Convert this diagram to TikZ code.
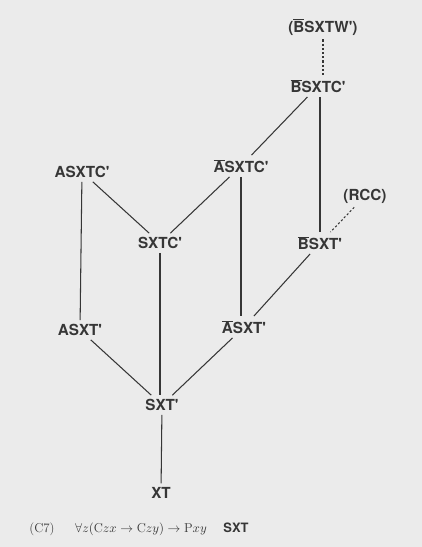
\documentclass[tikz,border=0pt]{standalone}
\usepackage{fontspec}
\setsansfont{TeX Gyre Heros}
\definecolor{ink}{HTML}{363636}
\definecolor{paper}{HTML}{EBEBEB}
\newcommand{\nbar}[1]{$\overline{\mbox{#1}}$}
\newcommand{\pq}{\textquotesingle}

\begin{document}
\begin{tikzpicture}[x=0.03cm, y=-0.03cm, auto,
    lbl/.style={font=\sffamily\bfseries\fontsize{13}{15}\selectfont, text=ink},
    captext/.style={font=\fontsize{11}{13}\selectfont, text=ink},
    edge/.style={draw=ink, line width=0.9pt},
    dots/.style={edge, dash pattern=on 1.8pt off 1.8pt}]
    \fill[paper] (0,0) rectangle (422,547);

    \node[lbl] (bsxtw) at (323,27) {(\nbar{B}SXTW\pq)};
    \node[lbl] (bsxtc) at (318,86) {\nbar{B}SXTC\pq};
    \node[lbl] (asxtc) at (82,172) {ASXTC\pq};
    \node[lbl] (nasxtc) at (241,166) {\nbar{A}SXTC\pq};
    \node[lbl] (rcc) at (365,196) {(RCC)};
    \node[lbl] (sxtc) at (160,243) {SXTC\pq};
    \node[lbl] (bsxt) at (320,243) {\nbar{B}SXT\pq};
    \node[lbl] (asxt) at (80,330) {ASXT\pq};
    \node[lbl] (nasxt) at (244,327) {\nbar{A}SXT\pq};
    \node[lbl] (sxt) at (162,405) {SXT\pq};
    \node[lbl] (xt) at (161,493) {XT};

    \node[captext] (c7) at (42,529) {(C7)};
    \node[captext] (law) at (141,529) {$\forall z(\mathrm{C}zx \rightarrow \mathrm{C}zy) \rightarrow \mathrm{P}xy$};
    \node[lbl, font=\sffamily\bfseries\fontsize{11}{13}\selectfont] (name) at (236,528) {SXT};

    \draw[dots] (bsxtw) -- (bsxtc.north -| bsxtw);
    \draw[edge] (bsxtc) -- (nasxtc);
    \draw[edge] (bsxtc.south -| bsxt) -- (bsxt);
    \draw[edge] (asxtc) -- (asxt);
    \draw[edge] (asxtc) -- (sxtc);
    \draw[edge] (nasxtc) -- (sxtc);
    \draw[edge] (nasxtc) -- (nasxtc |- nasxt.north);
    \draw[dots] (rcc) -- (bsxt);
    \draw[edge] (sxtc) -- (sxtc |- sxt.north);
    \draw[edge] (bsxt) -- (nasxt);
    \draw[edge] (asxt) -- (sxt);
    \draw[edge] (nasxt) -- (sxt);
    \draw[edge] (sxt) -- (xt);
\end{tikzpicture}
\end{document}
